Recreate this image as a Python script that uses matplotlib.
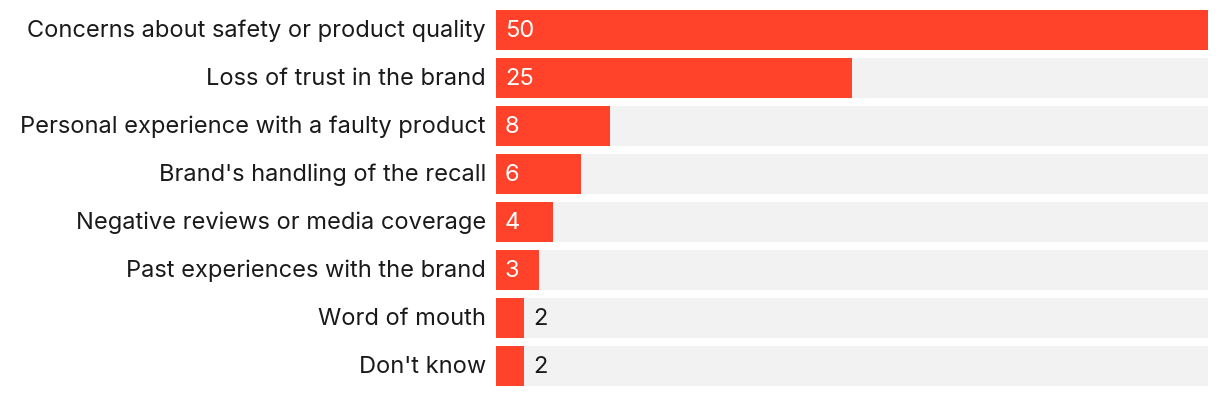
import matplotlib.pyplot as plt

categories = [
    "Concerns about safety or product quality",
    "Loss of trust in the brand",
    "Personal experience with a faulty product",
    "Brand's handling of the recall",
    "Negative reviews or media coverage",
    "Past experiences with the brand",
    "Word of mouth",
    "Don't know",
]
values = [50, 25, 8, 6, 4, 3, 2, 2]
max_value = 50

RED = "#FF4229"
GREY = "#F2F2F2"
TEXT = "#1a1a1a"

plt.rcParams["font.family"] = ["Inter", "DejaVu Sans"]

W, H = 1220, 396
fig = plt.figure(figsize=(W / 100, H / 100), dpi=100)
ax = fig.add_axes([496 / W, 10 / H, 712 / W, 376 / H])

bar_h = 40 / 48
pos = list(range(len(categories)))

# grey track behind every bar, then the real values
ax.barh(pos, [max_value] * len(pos), height=bar_h, color=GREY, linewidth=0)
ax.barh(pos, values, height=bar_h, color=RED, linewidth=0)

ax.set_xlim(0, max_value)
ax.set_ylim(len(pos) - 1 + bar_h / 2, -bar_h / 2)
ax.axis("off")

# pixel offsets -> data units
px = max_value / 712
dy = 1 / 48
for i, (cat, v) in enumerate(zip(categories, values)):
    ax.text(-10 * px, i + dy, cat, ha="right", va="center", fontsize=17, color=TEXT)
    if v >= 3:
        ax.text(9 * px, i + dy, str(v), ha="left", va="center", fontsize=17, color="white")
    else:
        ax.text(v + 9 * px, i + dy, str(v), ha="left", va="center", fontsize=17, color=TEXT)

fig.savefig("out.png", dpi=100)
